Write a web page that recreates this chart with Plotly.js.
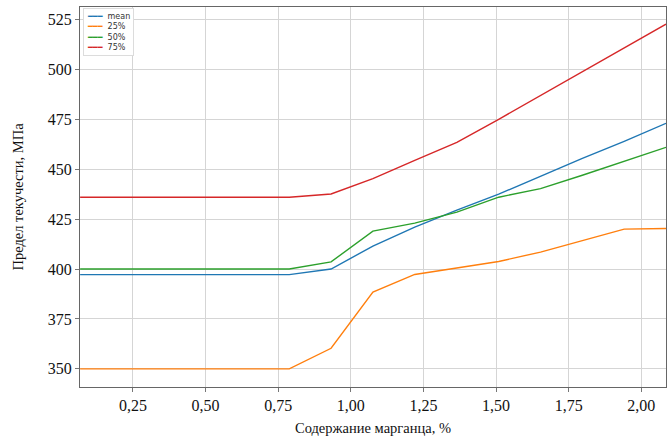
<!DOCTYPE html>
<html>
<head>
<meta charset="utf-8">
<script src="https://cdn.plot.ly/plotly-3.0.1.min.js"></script>
<style>
  html, body { margin: 0; padding: 0; background: #fff; }
  #chart { width: 671px; height: 447px; }
</style>
</head>
<body>
<div id="chart"></div>
<script>
// manganese content, %
var mn = [0.068, 0.212, 0.356, 0.500, 0.644, 0.788, 0.932, 1.076, 1.220, 1.365, 1.509, 1.653, 1.797, 1.941, 2.085];

// yield strength, MPa
var meanVals = [397.2, 397.2, 397.2, 397.2, 397.2, 397.2, 400.0, 411.5, 421.0, 429.5, 437.5, 446.5, 455.5, 464.0, 473.0];
var q25 = [350.0, 350.0, 350.0, 350.0, 350.0, 350.0, 360.3, 388.5, 397.3, 400.5, 403.8, 408.5, 414.3, 420.0, 420.3];
var q50 = [400.0, 400.0, 400.0, 400.0, 400.0, 400.0, 403.6, 419.0, 423.0, 428.5, 436.0, 440.3, 447.0, 454.0, 461.0];
var q75 = [436.0, 436.0, 436.0, 436.0, 436.0, 436.0, 437.6, 445.3, 454.5, 463.5, 475.0, 487.0, 498.6, 510.7, 522.7];

var names = ['mean', '25%', '50%', '75%'];
var colors = ['#1f77b4', '#ff7f0e', '#2ca02c', '#d62728'];
var series = [meanVals, q25, q50, q75];

var data = series.map(function (s, i) {
  return {
    x: mn,
    y: s,
    name: names[i],
    type: 'scatter',
    mode: 'lines',
    line: {color: colors[i], width: 1.4}
  };
});

// compact matplotlib-like legend (plotly's own legend rows are too tall)
var legendText = names.map(function (n, i) {
  return '<span style="color:' + colors[i] + '">━━━</span>  ' + n;
}).join('<br>');

var serif = 'Liberation Serif, Times New Roman, serif';

var layout = {
  width: 671,
  height: 447,
  paper_bgcolor: '#fff',
  plot_bgcolor: '#fff',
  separators: ', ',
  showlegend: false,
  margin: {l: 80, r: 5, t: 7, b: 60, pad: 0},
  annotations: [{
    xref: 'paper', yref: 'paper',
    x: 0.005, y: 0.997,
    xanchor: 'left', yanchor: 'top',
    align: 'left',
    showarrow: false,
    text: legendText,
    font: {family: 'DejaVu Sans, sans-serif', size: 8, color: '#333'},
    bgcolor: '#fff',
    bordercolor: '#dcdcdc',
    borderwidth: 1,
    borderpad: 3
  }],
  xaxis: {
    range: [0.0676, 2.085],
    tickvals: [0.25, 0.5, 0.75, 1.0, 1.25, 1.5, 1.75, 2.0],
    tickformat: '.2f',
    ticks: 'outside',
    ticklen: 4,
    tickcolor: '#777',
    showgrid: true,
    gridcolor: '#d5d5d5',
    gridwidth: 1,
    zeroline: false,
    showline: true,
    linecolor: '#666',
    linewidth: 1,
    mirror: true,
    tickfont: {family: serif, size: 16, color: '#111'},
    title: {text: 'Содержание марганца, %', font: {family: serif, size: 14.5, color: '#111'}, standoff: 9}
  },
  yaxis: {
    range: [340.9, 531.3],
    tickvals: [350, 375, 400, 425, 450, 475, 500, 525],
    ticks: 'outside',
    ticklen: 4,
    tickcolor: '#777',
    showgrid: true,
    gridcolor: '#d5d5d5',
    gridwidth: 1,
    zeroline: false,
    showline: true,
    linecolor: '#666',
    linewidth: 1,
    mirror: true,
    tickfont: {family: serif, size: 16, color: '#111'},
    title: {text: 'Предел текучести, МПа', font: {family: serif, size: 14.5, color: '#111'}, standoff: 20}
  }
};

Plotly.newPlot('chart', data, layout, {displayModeBar: false, staticPlot: true});
</script>
</body>
</html>
